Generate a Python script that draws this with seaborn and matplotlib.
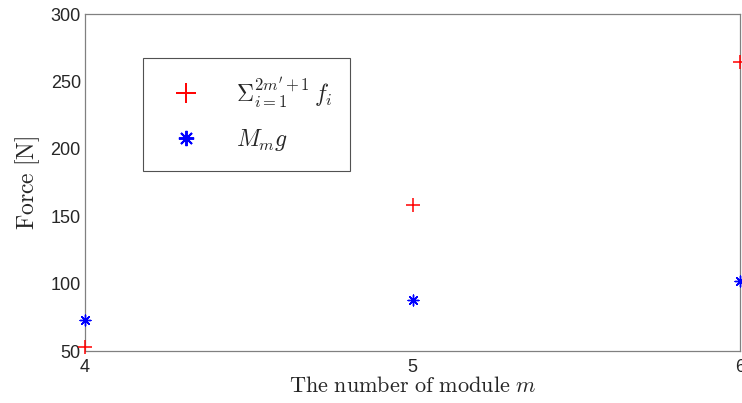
import matplotlib
matplotlib.use("Agg")
import matplotlib.pyplot as plt
import seaborn as sns
import pandas as pd
from matplotlib.lines import Line2D

modules = [4, 5, 6]
sum_forces = [53, 158.5, 264.5]
weight = [73, 88, 102]
y_ticks = [50, 100, 150, 200, 250, 300]
x_ticks = [4, 5, 6]

sns.set_theme(style="white")
plt.rcParams['font.family'] = ['Liberation Sans Narrow', 'Liberation Sans', 'DejaVu Sans']
plt.rcParams['mathtext.fontset'] = 'cm'

df = pd.DataFrame({
    "m": modules * 2,
    "force": sum_forces + weight,
    "series": ["sum"] * 3 + ["mg"] * 3,
})

fig = plt.figure(figsize=(7.42, 4.03), dpi=100)
ax = fig.add_axes([0.1146, 0.129, 0.8827, 0.836])

sns.scatterplot(data=df[df.series == "sum"], x="m", y="force", marker="+", color="#ff0000",
                s=110, linewidth=1.1, ax=ax, legend=False, clip_on=False, zorder=3)
sns.scatterplot(data=df[df.series == "mg"], x="m", y="force", marker=(8, 2, 0), color="#0000ff",
                s=60, linewidth=1.0, ax=ax, legend=False, clip_on=False, zorder=3)

ax.set_xlim(4, 6)
ax.set_ylim(50, 300)
ax.set_xticks(x_ticks)
ax.set_yticks(y_ticks)
ax.set_xticklabels([str(v) for v in x_ticks])
ax.set_yticklabels([str(v) for v in y_ticks])
ax.tick_params(direction="in", length=5, width=0.8, color="#808080", labelsize=13,
               labelcolor="#262626", pad=3)
ax.tick_params(axis="x", pad=6)
for s in ax.spines.values():
    s.set_color("#808080")
    s.set_linewidth(0.9)

ax.set_xlabel(r"$\mathrm{The\ number\ of\ module}\ m$", fontsize=16, color="#262626", labelpad=0)
ax.set_ylabel(r"$\mathrm{Force\ [N]}$", fontsize=17, color="#262626", labelpad=6)

handles = [
    Line2D([], [], linestyle="none", marker="+", color="#ff0000", markersize=15, markeredgewidth=1.4),
    Line2D([], [], linestyle="none", marker=(8, 2, 0), color="#0000ff", markersize=11, markeredgewidth=1.4),
]
labels = [r"$\Sigma_{i=1}^{2m'+1}\,f_i$", r"$M_m g$"]
leg = ax.legend(handles, labels, loc="upper left", bbox_to_anchor=(0.088, 0.87),
                fontsize=17, frameon=True, fancybox=False, edgecolor="#262626",
                borderpad=0.75, handlelength=2.2, handletextpad=1.0, labelspacing=0.7,
                borderaxespad=0)
leg.get_frame().set_linewidth(0.8)

fig.savefig("out.png", dpi=100)
